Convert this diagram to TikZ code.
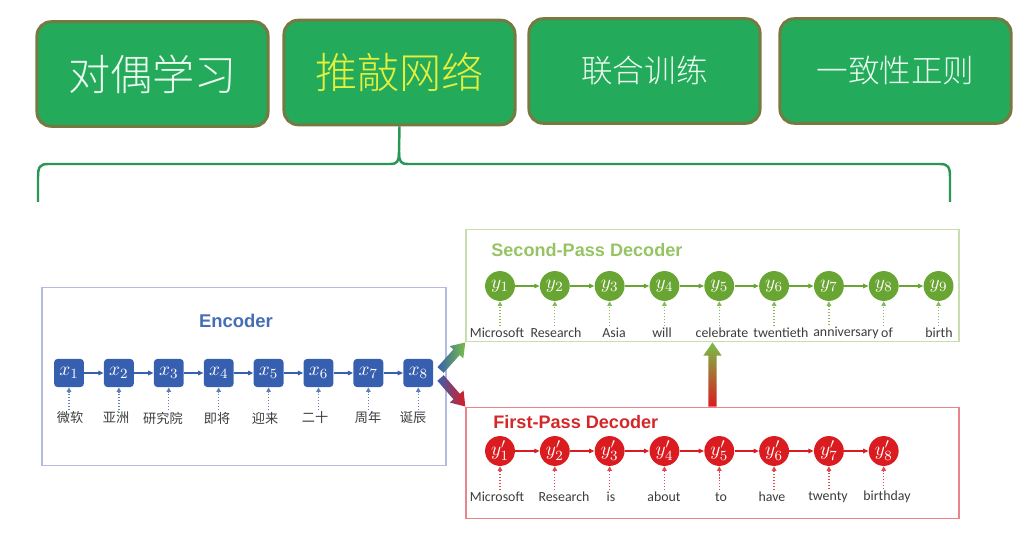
\documentclass[tikz,border=0pt]{standalone}
\usepackage{fontspec}
\setsansfont{Carlito}
\newfontfamily\cjk{Noto Sans CJK SC}
\newfontfamily\cjklight{Noto Sans CJK SC Light}
\newfontfamily\headfont{Liberation Sans}
\usepackage{tikz}
\usetikzlibrary{arrows.meta, positioning, calc}
\definecolor{topFill}{RGB}{35,170,90}
\definecolor{topEdge}{RGB}{118,122,66}
\definecolor{topText}{RGB}{236,250,240}
\definecolor{hiText}{RGB}{228,240,60}
\definecolor{braceLine}{RGB}{40,150,85}
\definecolor{encBlue}{RGB}{55,95,175}
\definecolor{encTitle}{RGB}{70,110,180}
\definecolor{encEdge}{RGB}{180,186,222}
\definecolor{secGreen}{RGB}{105,165,50}
\definecolor{secTitle}{RGB}{150,196,100}
\definecolor{secEdge}{RGB}{200,222,175}
\definecolor{fstRed}{RGB}{218,28,32}
\definecolor{fstTitle}{RGB}{212,40,40}
\definecolor{fstEdge}{RGB}{236,130,140}
\definecolor{wordInk}{RGB}{60,60,60}
\definecolor{fatGreen}{RGB}{120,190,70}
\definecolor{fatMid}{RGB}{200,140,40}
\newcommand{\fatarrow}[3]{%
  \coordinate (fatneck) at ($(#2)!7.5pt!(#1)$);
  \shade[#3]
    ($(#1)!2.4pt!90:(#2)$) -- ($(fatneck)!2.4pt!90:(#2)$) --
    ($(fatneck)!5.2pt!90:(#2)$) -- (#2) --
    ($(fatneck)!5.2pt!-90:(#2)$) -- ($(fatneck)!2.4pt!-90:(#2)$) --
    ($(#1)!2.4pt!-90:(#2)$) -- cycle;}
\tikzset{
  topic/.style={
    draw=topEdge,
    line width=1.7pt,
    fill=topFill,
    rounded corners=8pt,
    minimum width=131.5pt,
    minimum height=59.5pt,
    text=topText,
    font=\cjklight\fontsize{24}{28}\selectfont
  },
  topicSmall/.style={topic, font=\cjklight\fontsize{18}{22}\selectfont},
  panel/.style={draw, line width=0.8pt, inner sep=0pt},
  title/.style={font=\headfont\bfseries\fontsize{10.3}{12}\selectfont, inner sep=0pt},
  xbox/.style={
    fill=encBlue,
    rounded corners=2pt,
    minimum width=17pt,
    minimum height=16pt,
    inner sep=0pt,
    text=white,
    font=\fontsize{11}{12}\selectfont
  },
  ydot/.style={circle, minimum size=17pt, inner sep=0pt, text=white, font=\fontsize{11}{12}\selectfont},
  link/.style={-{Triangle[length=3pt,width=2.6pt]}, line width=0.6pt},
  feed/.style={densely dotted, -{Triangle[length=2.6pt,width=2.6pt]}, line width=0.7pt},
  cnword/.style={font=\cjk\fontsize{7.5}{9}\selectfont, text=wordInk, inner sep=1pt},
  enword/.style={font=\sffamily\fontsize{7.9}{9}\selectfont, text=wordInk, inner sep=1pt},
  brace/.style={draw=braceLine, line width=1.4pt}
}
\begin{document}
\begin{tikzpicture}[x=0.02cm, y=-0.02cm]
  \useasboundingbox (0,0) rectangle (1031,543);

  % four topics on top
  \node[topic] (dual) at (152.5,74) {对偶学习};
  \node[topic, text=hiText] (delib) at (399.5,72.5) {推敲网络};
  \node[topicSmall] (joint) at (644.5,71) {联合训练};
  \node[topicSmall] (reg) at (895.5,71) {一致性正则};

  % brace under the second topic
  \coordinate (braceL) at (38,202);
  \coordinate (braceR) at (950,202);
  \draw[brace] (delib.south) -- (399,152) .. controls (399,162) and (397,164) .. (390,164) -- (48,164) .. controls (40,164) and (38,167) .. (38,177) -- (braceL);
  \draw[brace] (399,152) .. controls (399,162) and (401,164) .. (408,164) -- (940,164) .. controls (948,164) and (950,167) .. (950,177) -- (braceR);

  % panels
  \node[panel, draw=encEdge, minimum width=230pt, minimum height=101pt] (enc) at (244,376.5) {};
  \node[panel, draw=secEdge, minimum width=280.6pt, minimum height=64pt] (sec) at (712.5,285.5) {};
  \node[panel, draw=fstEdge, minimum width=280.6pt, minimum height=63.5pt] (fst) at (712.5,463) {};
  \node[title, text=encTitle, font=\headfont\bfseries\fontsize{10.5}{12}\selectfont] (encT) at (236,321) {Encoder};
  \node[title, text=secTitle, anchor=west] (secT) at (491,250) {Second-Pass Decoder};
  \node[title, text=fstTitle, anchor=west] (fstT) at (493,422) {First-Pass Decoder};

  % encoder
  \begin{scope}[node distance=11pt]
    \node[xbox] (x1) at (69,373) {$x_1$};
    \node[xbox, right=of x1] (x2) {$x_2$};
    \node[xbox, right=of x2] (x3) {$x_3$};
    \node[xbox, right=of x3] (x4) {$x_4$};
    \node[xbox, right=of x4] (x5) {$x_5$};
    \node[xbox, right=of x5] (x6) {$x_6$};
    \node[xbox, right=of x6] (x7) {$x_7$};
    \node[xbox, right=of x7] (x8) {$x_8$};
  \end{scope}
  \node[cnword] (src1) at (70,418) {微软};
  \node[cnword] (src2) at (116,418) {亚洲};
  \node[cnword] (src3) at (163,418) {研究院};
  \node[cnword] (src4) at (217,418) {即将};
  \node[cnword] (src5) at (265,418) {迎来};
  \node[cnword] (src6) at (315,418) {二十};
  \node[cnword] (src7) at (368,418) {周年};
  \node[cnword] (src8) at (413,418) {诞辰};

  % second-pass decoder
  \begin{scope}[node distance=13.8pt]
    \node[ydot, fill=secGreen] (y1) at (500,286) {$y_1$};
    \node[ydot, fill=secGreen, right=of y1] (y2) {$y_2$};
    \node[ydot, fill=secGreen, right=of y2] (y3) {$y_3$};
    \node[ydot, fill=secGreen, right=of y3] (y4) {$y_4$};
    \node[ydot, fill=secGreen, right=of y4] (y5) {$y_5$};
    \node[ydot, fill=secGreen, right=of y5] (y6) {$y_6$};
    \node[ydot, fill=secGreen, right=of y6] (y7) {$y_7$};
    \node[ydot, fill=secGreen, right=of y7] (y8) {$y_8$};
    \node[ydot, fill=secGreen, right=of y8] (y9) {$y_9$};
  \end{scope}
  \node[enword] (out1) at (497,333) {Microsoft};
  \node[enword] (out2) at (556,333) {Research};
  \node[enword] (out3) at (614,333) {Asia};
  \node[enword] (out4) at (662,333) {will};
  \node[enword] (out5) at (722,333) {celebrate};
  \node[enword] (out6) at (781,333) {twentieth};
  \node[enword] (out7) at (846,333) {anniversary};
  \node[enword] (out8) at (887,333) {of};
  \node[enword] (out9) at (939,333) {birth};

  % first-pass decoder
  \begin{scope}[node distance=13.8pt]
    \node[ydot, fill=fstRed] (d1) at (500,451) {$y'_1$};
    \node[ydot, fill=fstRed, right=of d1] (d2) {$y'_2$};
    \node[ydot, fill=fstRed, right=of d2] (d3) {$y'_3$};
    \node[ydot, fill=fstRed, right=of d3] (d4) {$y'_4$};
    \node[ydot, fill=fstRed, right=of d4] (d5) {$y'_5$};
    \node[ydot, fill=fstRed, right=of d5] (d6) {$y'_6$};
    \node[ydot, fill=fstRed, right=of d6] (d7) {$y'_7$};
    \node[ydot, fill=fstRed, right=of d7] (d8) {$y'_8$};
  \end{scope}
  \node[enword] (draft1) at (497,497) {Microsoft};
  \node[enword] (draft2) at (564,497) {Research};
  \node[enword] (draft3) at (611,497) {is};
  \node[enword] (draft4) at (664,497) {about};
  \node[enword] (draft5) at (721,497) {to};
  \node[enword] (draft6) at (772,497) {have};
  \node[enword] (draft7) at (828,497) {twenty};
  \node[enword] (draft8) at (887,497) {birthday};

  % chains and inputs
  \foreach \i [count=\j from 2] in {1,...,7}
    \draw[link, draw=encBlue, fill=encBlue] (x\i) -- (x\j);
  \foreach \i [count=\j from 2] in {1,...,8}
    \draw[link, draw=secGreen, fill=secGreen] (y\i) -- (y\j);
  \foreach \i [count=\j from 2] in {1,...,7}
    \draw[link, draw=fstRed, fill=fstRed] (d\i) -- (d\j);
  \foreach \i in {1,...,8}
    \draw[feed, draw=encBlue!80] (src\i.north -| x\i) -- (x\i.south);
  \foreach \i in {1,...,9}
    \draw[feed, draw=secGreen!80] (out\i.north -| y\i) -- (y\i.south);
  \foreach \i in {1,...,8}
    \draw[feed, draw=fstRed!80] (draft\i.north -| d\i) -- (d\i.south);

  % fat arrows between the parts
  \coordinate (gtail) at ($(x8.east)+(7,-3)$);
  \coordinate (rtail) at ($(x8.east)+(7,5)$);
  \fatarrow{gtail}{sec.south west}{left color=encBlue, middle color=fatGreen!75!encBlue, right color=fatGreen}
  \fatarrow{rtail}{fst.north west}{left color=encBlue, middle color=fstRed!75!encBlue, right color=fstRed}
  \fatarrow{fst.north}{sec.south}{bottom color=fstRed, middle color=fatMid, top color=fatGreen}
\end{tikzpicture}
\end{document}
